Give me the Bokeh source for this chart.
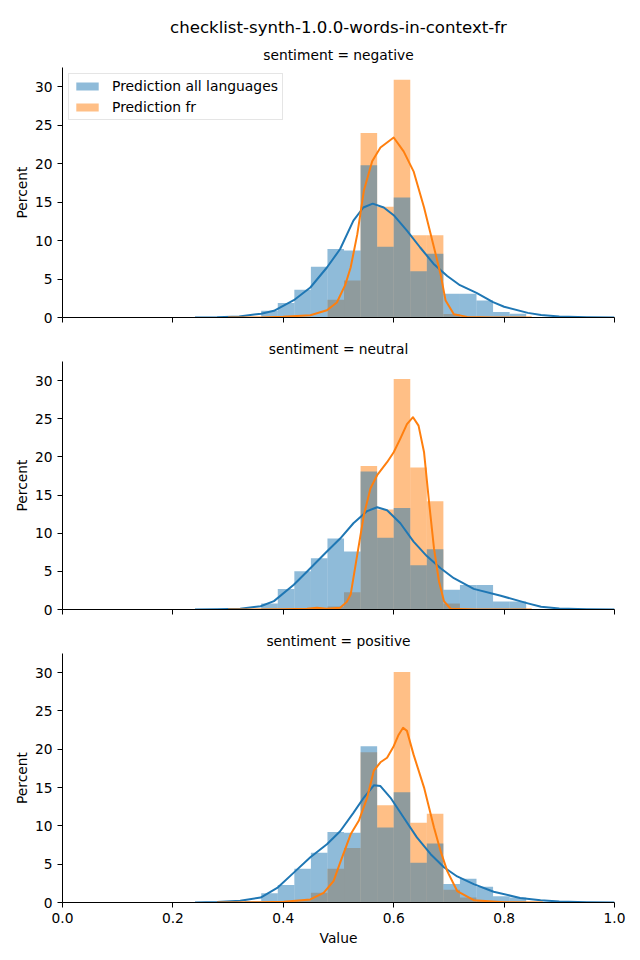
from bokeh.plotting import figure
from bokeh.models import Range1d, FixedTicker, PrintfTickFormatter, Title, Legend, LegendItem, ColumnDataSource
from bokeh.layouts import column
from bokeh.embed import file_html
from bokeh.resources import INLINE

# ---------------- data ----------------
suptitle = "checklist-synth-1.0.0-words-in-context-fr"
panel_titles = ["sentiment = negative", "sentiment = neutral", "sentiment = positive"]
series_names = ["Prediction all languages", "Prediction fr"]

bins_left = [0.33, 0.36, 0.39, 0.42, 0.45, 0.48, 0.51, 0.54, 0.57, 0.60,
             0.63, 0.66, 0.69, 0.72, 0.75, 0.78, 0.81]
bin_width = 0.03

neg_all = [0.0, 0.87, 1.9, 3.6, 6.6, 8.9, 8.7, 19.8, 9.2, 15.6, 6.0, 8.3, 3.1, 3.1, 2.2, 0.7, 0.5]
neg_fr = [0, 0, 0, 0, 0, 2.3, 4.8, 24.0, 14.4, 30.9, 10.7, 10.7, 0.45, 0, 0, 0, 0]
neu_all = [0.0, 0.78, 2.7, 5.0, 6.7, 9.3, 7.6, 18.1, 9.4, 13.3, 5.8, 7.9, 2.6, 3.2, 3.2, 1.05, 1.05]
neu_fr = [0, 0, 0, 0, 0, 0.4, 2.25, 18.8, 13.1, 30.2, 18.6, 14.2, 0.8, 0, 0, 0, 0]
pos_all = [0.2, 1.2, 2.3, 4.4, 6.5, 9.2, 9.1, 20.4, 9.8, 14.4, 5.2, 7.7, 2.4, 3.1, 2.05, 0.8, 0.65]
pos_fr = [0, 0, 0, 0.3, 1.26, 4.4, 7.1, 19.6, 12.7, 30.1, 10.4, 11.6, 1.65, 0.65, 0.2, 0, 0]

# KDE curves
neg_kde_all_x = [0.24, 0.28, 0.32, 0.36, 0.383, 0.419, 0.449, 0.479, 0.503, 0.527, 0.545, 0.562, 0.582,
                 0.600, 0.624, 0.648, 0.672, 0.697, 0.72, 0.75, 0.78, 0.80, 0.843, 0.867, 0.9, 0.95, 1.0]
neg_kde_all_y = [0.0, 0.02, 0.12, 0.5, 0.87, 2.25, 3.9, 6.5, 8.9, 12.6, 14.3, 14.8, 14.3,
                 13.3, 11.3, 9.1, 7.0, 5.4, 4.2, 3.2, 2.0, 1.4, 0.6, 0.33, 0.14, 0.04, 0.01]
neg_kde_fr_x = [0.30, 0.36, 0.40, 0.449, 0.479, 0.497, 0.512, 0.522, 0.534, 0.546, 0.561, 0.576, 0.600,
                0.618, 0.636, 0.655, 0.673, 0.685, 0.694, 0.709, 0.733, 0.78, 0.85]
neg_kde_fr_y = [0.0, 0.01, 0.09, 0.3, 0.95, 1.95, 4.2, 6.5, 10.8, 16.5, 20.3, 22.1, 23.4,
                21.6, 19.0, 14.3, 9.1, 5.6, 2.2, 0.43, 0.08, 0.0, 0.0]

neu_kde_all_x = [0.24, 0.28, 0.322, 0.359, 0.383, 0.419, 0.449, 0.479, 0.503, 0.527, 0.552, 0.570, 0.588,
                 0.612, 0.636, 0.660, 0.685, 0.709, 0.745, 0.794, 0.843, 0.867, 0.9, 0.95, 1.0]
neu_kde_all_y = [0.0, 0.02, 0.09, 0.43, 1.1, 3.25, 5.4, 7.6, 9.3, 11.3, 12.9, 13.4, 13.0,
                 11.3, 8.9, 7.0, 5.4, 4.1, 2.7, 1.8, 0.8, 0.35, 0.12, 0.03, 0.0]
neu_kde_fr_x = [0.30, 0.40, 0.443, 0.461, 0.479, 0.503, 0.515, 0.522, 0.534, 0.546, 0.558, 0.570, 0.588,
                0.600, 0.612, 0.624, 0.635, 0.645, 0.655, 0.664, 0.673, 0.682, 0.691, 0.703, 0.75, 0.85]
neu_kde_fr_y = [0.0, 0.02, 0.09, 0.22, 0.09, 0.22, 1.0, 1.96, 7.2, 12.4, 15.9, 17.6, 19.3,
                20.6, 22.4, 24.3, 25.2, 24.1, 20.6, 14.1, 8.0, 3.7, 1.1, 0.1, 0.0, 0.0]

pos_kde_all_x = [0.24, 0.28, 0.322, 0.359, 0.389, 0.419, 0.449, 0.479, 0.503, 0.527, 0.546, 0.564, 0.576,
                 0.594, 0.618, 0.642, 0.667, 0.691, 0.715, 0.745, 0.781, 0.829, 0.866, 0.9, 0.95, 1.0]
pos_kde_all_y = [0.01, 0.05, 0.22, 0.65, 1.9, 3.9, 5.9, 7.6, 9.3, 11.7, 13.7, 15.3, 15.2,
                 13.7, 11.1, 8.5, 6.3, 4.6, 3.4, 2.4, 1.4, 0.6, 0.3, 0.12, 0.03, 0.01]
pos_kde_fr_x = [0.28, 0.36, 0.401, 0.449, 0.473, 0.491, 0.503, 0.522, 0.537, 0.552, 0.564, 0.576, 0.588,
                0.600, 0.609, 0.617, 0.624, 0.636, 0.655, 0.673, 0.685, 0.697, 0.715, 0.745, 0.80, 0.87]
pos_kde_fr_y = [0.0, 0.02, 0.09, 0.4, 1.26, 2.8, 5.2, 8.9, 10.7, 13.7, 17.2, 18.3, 18.9,
                20.4, 21.9, 22.8, 22.4, 19.3, 15.0, 9.8, 6.7, 4.1, 1.5, 0.3, 0.02, 0.0]

x_ticks = [0.0, 0.2, 0.4, 0.6, 0.8, 1.0]
y_ticks = [0, 5, 10, 15, 20, 25, 30]

BLUE = "#1f77b4"
ORANGE = "#ff7f0e"
FONT = "DejaVu Sans"
SMALL = "13.8px"

panels = [
    (panel_titles[0], neg_all, neg_fr, neg_kde_all_x, neg_kde_all_y, neg_kde_fr_x, neg_kde_fr_y),
    (panel_titles[1], neu_all, neu_fr, neu_kde_all_x, neu_kde_all_y, neu_kde_fr_x, neu_kde_fr_y),
    (panel_titles[2], pos_all, pos_fr, pos_kde_all_x, pos_kde_all_y, pos_kde_fr_x, pos_kde_fr_y),
]

# layout: (height, border_top, border_bottom)
layout_spec = [(334, 67, 17), (292, 25, 17), (334, 26, 58)]

figs = []
for i, (ptitle, h_all, h_fr, kax, kay, kfx, kfy) in enumerate(panels):
    height, btop, bbot = layout_spec[i]
    p = figure(width=640, height=height, output_backend="svg", toolbar_location=None,
               x_range=Range1d(0, 1), y_range=Range1d(0, 32.5),
               min_border_left=62, min_border_right=26, min_border_top=btop, min_border_bottom=bbot)
    p.outline_line_color = None
    p.xgrid.visible = False
    p.ygrid.visible = False
    p.background_fill_color = "white"
    p.border_fill_color = "white"

    lefts = bins_left
    rights = [l + bin_width for l in bins_left]
    src_fr = ColumnDataSource(dict(left=lefts, right=rights, top=h_fr, bottom=[0] * len(h_fr)))
    src_all = ColumnDataSource(dict(left=lefts, right=rights, top=h_all, bottom=[0] * len(h_all)))
    r_fr = p.quad(left="left", right="right", top="top", bottom="bottom", source=src_fr,
                  fill_color=ORANGE, fill_alpha=0.5, line_color=None)
    r_all = p.quad(left="left", right="right", top="top", bottom="bottom", source=src_all,
                   fill_color=BLUE, fill_alpha=0.5, line_color=None)
    p.line(kax, kay, line_color=BLUE, line_width=2, line_join="round")
    p.line(kfx, kfy, line_color=ORANGE, line_width=2, line_join="round")

    # axes
    for ax in (p.xaxis[0], p.yaxis[0]):
        ax.axis_line_color = "black"
        ax.axis_line_width = 1
        ax.major_tick_line_color = "black"
        ax.major_tick_out = 5
        ax.major_tick_in = 0
        ax.minor_tick_line_color = None
        ax.major_label_text_font = FONT
        ax.major_label_text_font_size = SMALL
        ax.major_label_text_color = "black"
        ax.axis_label_text_font = FONT
        ax.axis_label_text_font_size = SMALL
        ax.axis_label_text_font_style = "normal"
        ax.axis_label_text_color = "black"
    p.yaxis.ticker = FixedTicker(ticks=y_ticks)
    p.yaxis.axis_label = "Percent"
    p.yaxis.axis_label_standoff = 2
    if i < 2:
        # tick marks only, no labels: use minor ticks styled like major ticks
        p.xaxis.ticker = FixedTicker(ticks=[], minor_ticks=x_ticks)
        p.xaxis.minor_tick_line_color = "black"
        p.xaxis.minor_tick_out = 5
        p.xaxis.minor_tick_in = 0
        p.xaxis.minor_tick_line_width = 1
    else:
        p.xaxis.ticker = FixedTicker(ticks=x_ticks)
        p.xaxis.formatter = PrintfTickFormatter(format="%.1f")
        p.xaxis.axis_label = "Value"
        p.xaxis.axis_label_standoff = 4
        p.xaxis.major_label_standoff = 5

    p.add_layout(Title(text=ptitle, align="center", text_font=FONT, text_font_size=SMALL,
                       text_font_style="normal", text_color="black", standoff=9), "above")
    if i == 0:
        p.add_layout(Title(text=suptitle, align="center", text_font=FONT, text_font_size="16.6px",
                           text_font_style="normal", text_color="black", standoff=8, offset=-18), "above")
        legend = Legend(items=[LegendItem(label=series_names[0], renderers=[r_all]),
                               LegendItem(label=series_names[1], renderers=[r_fr])],
                        location="top_left", margin=6, padding=4, spacing=5,
                        glyph_width=28, glyph_height=10, label_height=14, label_standoff=11,
                        label_text_font=FONT, label_text_font_size="13.9px", label_text_color="black",
                        border_line_color="#cccccc", border_line_width=1,
                        background_fill_color="white", background_fill_alpha=0.8)
        p.add_layout(legend)
    figs.append(p)

layout = column(*figs, spacing=0)
open("out.html", "w").write(file_html(layout, INLINE))
